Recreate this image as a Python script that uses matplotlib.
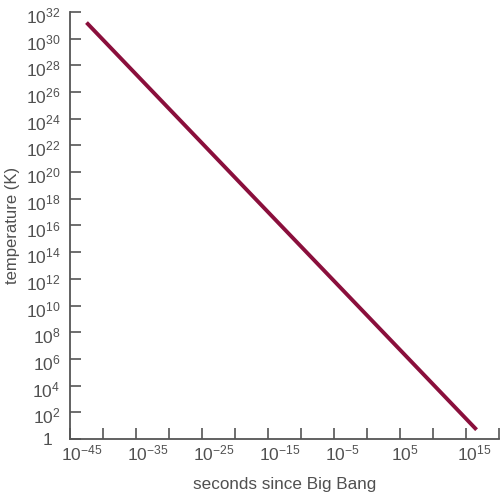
import numpy as np
import matplotlib
matplotlib.use("Agg")
import matplotlib.pyplot as plt
import matplotlib.transforms as mtransforms
from matplotlib.ticker import FixedLocator, NullLocator, NullFormatter

# line end points
seconds = [10**-42.5, 10**16.6]
temperature = [10**31.2, 10**0.7]

x_major = [1e-45, 1e-35, 1e-25, 1e-15, 1e-5, 1e5, 1e15]
x_labels = [r"$10^{-45}$", r"$10^{-35}$", r"$10^{-25}$", r"$10^{-15}$",
            r"$10^{-5}$", r"$10^{5}$", r"$10^{15}$"]
x_minor = [1e-40, 1e-30, 1e-20, 1e-10, 1e0, 1e10, 1e20]
y_major = [10.0**k for k in range(0, 33, 2)]
y_labels = ["1"] + [r"$10^{%d}$" % k for k in range(2, 33, 2)]

plt.rcParams['font.family'] = ['Liberation Sans', 'DejaVu Sans']
plt.rcParams['mathtext.fontset'] = 'custom'
plt.rcParams['mathtext.rm'] = 'Liberation Sans'
plt.rcParams['mathtext.it'] = 'Liberation Sans'

fig = plt.figure(figsize=(5, 4.95), dpi=100)
ax = fig.add_axes([0.14, 0.113, 0.858, 0.863])
ax.plot(seconds, temperature, color='#8a0f3c', lw=2.8, solid_capstyle='butt')
ax.set_xscale('log')
ax.set_yscale('log')
ax.set_xlim(1e-45, 1e20)
ax.set_ylim(1, 1e32)

ax.xaxis.set_major_locator(FixedLocator(x_major))
ax.xaxis.set_minor_locator(FixedLocator(x_minor))
ax.xaxis.set_minor_formatter(NullFormatter())
ax.set_xticklabels(x_labels)
ax.yaxis.set_major_locator(FixedLocator(y_major))
ax.yaxis.set_minor_locator(NullLocator())
ax.yaxis.set_minor_formatter(NullFormatter())
ax.set_yticklabels(y_labels)

for s in ['top', 'right']:
    ax.spines[s].set_visible(False)
for s in ['left', 'bottom']:
    ax.spines[s].set_color('#555555')
    ax.spines[s].set_linewidth(1.3)
ax.tick_params(which='both', direction='in', length=8, width=1.2, color='#555555',
               labelsize=12.5, labelcolor='#505050')
ax.tick_params(axis='x', pad=3)
ax.tick_params(axis='y', pad=7)

# the "10" sits centred on each x tick, the exponent hangs to the right
shift = mtransforms.ScaledTranslation(-9 / 100, 0, fig.dpi_scale_trans)
for lab in ax.get_xticklabels():
    lab.set_horizontalalignment('left')
    lab.set_transform(lab.get_transform() + shift)
ylabs = ax.get_yticklabels()
yshift = mtransforms.ScaledTranslation(0, -3 / 100, fig.dpi_scale_trans)
for lab in ylabs[1:]:
    lab.set_transform(lab.get_transform() + yshift)
# the "1" lines up with the "10" of the labels above, not with the exponents
ylabs[0].set_transform(ylabs[0].get_transform() +
                       mtransforms.ScaledTranslation(-8 / 100, 0, fig.dpi_scale_trans))

ax.set_xlabel('seconds since Big Bang', fontsize=12.3, color='#505050', labelpad=10)
ax.set_ylabel('temperature (K)', fontsize=12, color='#505050', labelpad=4)

fig.savefig('out.png', dpi=100)
